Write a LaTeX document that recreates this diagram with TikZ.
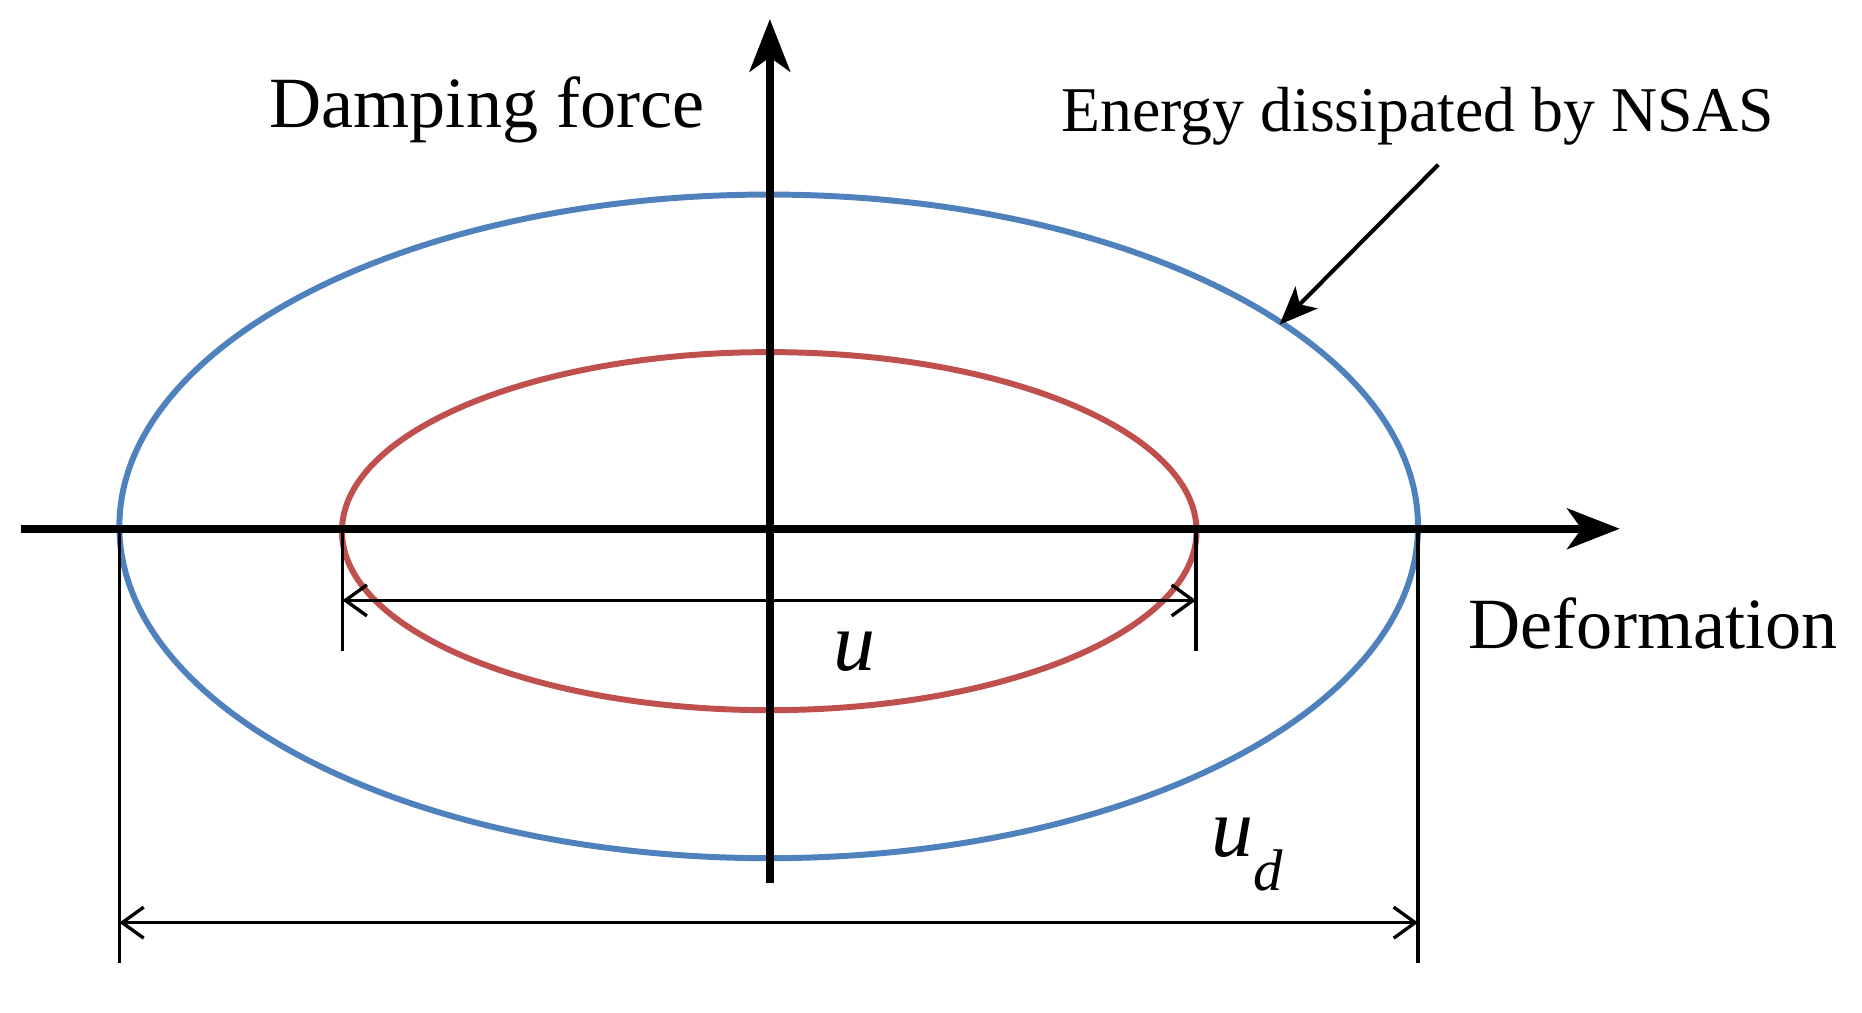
\documentclass[tikz,border=0pt]{standalone}
\usepackage{fontspec}
\setmainfont{Liberation Serif}
\usetikzlibrary{arrows.meta}
\begin{document}
\begin{tikzpicture}[x=0.05cm,y=-0.05cm,
  axis/.style={line width=0.33cm,-{Stealth[length=2.2cm,width=1.7cm,inset=0.6cm]}},
  dim/.style={line width=0.14cm},
  dimarr/.style={line width=0.14cm,{Straight Barb[length=0.9cm,width=1.3cm]}-{Straight Barb[length=0.9cm,width=1.3cm]}},
  lbl/.style={font=\fontsize{86}{100}\selectfont}]
\useasboundingbox (0,0) rectangle (1560,848);
\draw[line width=0.25cm,color={rgb,255:red,79;green,129;blue,189}] (644,441) ellipse [x radius=544,y radius=278];
\draw[line width=0.25cm,color={rgb,255:red,192;green,80;blue,77}] (644.5,445) ellipse [x radius=358,y radius=150];
\coordinate (hs) at (18,443); \coordinate (he) at (1357,443);
\coordinate (vs) at (645,740); \coordinate (ve) at (645,16);
\draw[axis] (hs) -- (he);
\draw[axis] (vs) -- (ve);
\coordinate (r1) at (287,443); \coordinate (r1b) at (287,545);
\coordinate (r2) at (1002,443); \coordinate (r2b) at (1002,545);
\draw[dim] (r1) -- (r1b); \draw[dim] (r2) -- (r2b);
\coordinate (ra) at (287,503); \coordinate (rb) at (1002,503);
\draw[dimarr] (ra) -- (rb);
\coordinate (outLtop) at (100,443); \coordinate (outLbot) at (100,807);
\coordinate (outRtop) at (1188,443); \coordinate (outRbot) at (1188,807);
\draw[dim] (outLtop) -- (outLbot);
\draw[dim] (outRtop) -- (outRbot);
\coordinate (outArrL) at (100,773); \coordinate (outArrR) at (1188,773);
\draw[dimarr] (outArrL) -- (outArrR);
\node[lbl,font=\fontsize{100}{110}\selectfont] (u) at (716,546) {\itshape u};
\node[lbl,font=\fontsize{100}{110}\selectfont] (ud) at (1045,716) {\itshape u\textsubscript{d}};
\node[lbl] (df) at (408,92) {Damping force};
\node[lbl,font=\fontsize{76}{88}\selectfont] (en) at (1188,97) {Energy dissipated by NSAS};
\node[lbl] (de) at (1385,522) {Deformation};
\coordinate (as) at (1205,138); \coordinate (ae) at (1072,272);
\draw[line width=0.17cm,-{Stealth[length=1.6cm,width=1.3cm,inset=0.4cm]}] (as) -- (ae);
\end{tikzpicture}
\end{document}
